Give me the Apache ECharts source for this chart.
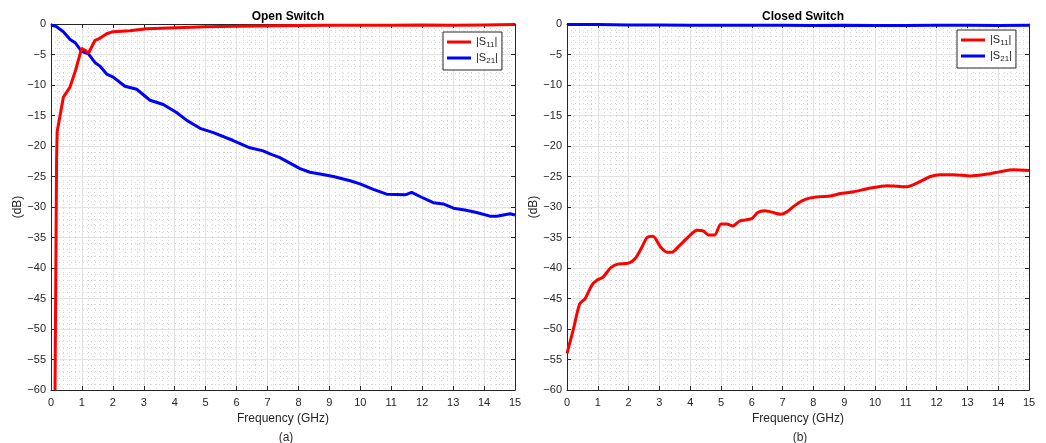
<!DOCTYPE html>
<html>
<head>
<meta charset="utf-8">
<title>Open / Closed Switch</title>
<script src="https://cdn.jsdelivr.net/npm/echarts@6/dist/echarts.min.js"></script>
<style>
  html, body { margin: 0; padding: 0; background: #fff; }
  #chart { width: 1046px; height: 443px; }
</style>
</head>
<body>
<div id="chart"></div>
<script>
// 开关断开 |S11|
var openS11Freq = [0.13, 0.18, 0.2, 0.4, 0.61, 0.8, 0.99, 1.1, 1.21, 1.42, 1.58, 1.8, 2.01, 2.55, 3.09, 4.06, 5.0, 6.0, 6.76, 8, 9, 10, 11, 12, 13, 14, 15]
var openS11Db = [-60, -22.3, -17.6, -12.0, -10.4, -7.5, -4.0, -4.3, -4.8, -2.7, -2.35, -1.6, -1.26, -1.1, -0.77, -0.6, -0.44, -0.38, -0.33, -0.25, -0.2, -0.2, -0.2, -0.15, -0.2, -0.15, -0.1]
// 开关断开 |S21|
var openS21Freq = [0, 0.18, 0.4, 0.61, 0.78, 0.99, 1.21, 1.42, 1.58, 1.8, 2.01, 2.39, 2.77, 3.2, 3.63, 4.06, 4.39, 4.82, 5.25, 5.89, 6.43, 6.86, 7.08, 7.4, 8.05, 8.37, 8.7, 9.13, 9.67, 9.99, 10.42, 10.85, 11.45, 11.66, 11.98, 12.36, 12.68, 13.01, 13.38, 13.76, 14.19, 14.41, 14.84, 15]
var openS21Db = [-0.16, -0.44, -1.26, -2.5, -3.06, -4.5, -4.9, -6.3, -6.9, -8.2, -8.7, -10.2, -10.7, -12.5, -13.2, -14.5, -15.8, -17.1, -17.8, -19.1, -20.3, -20.8, -21.3, -21.9, -23.7, -24.3, -24.6, -25.0, -25.7, -26.2, -27.1, -27.9, -28.0, -27.6, -28.4, -29.3, -29.5, -30.2, -30.5, -30.9, -31.5, -31.5, -31.1, -31.3]
// 开关闭合 |S11|
var closedS11Freq = [0, 0.21, 0.41, 0.59, 0.81, 0.97, 1.17, 1.41, 1.62, 2.0, 2.22, 2.43, 2.6, 2.79, 3.03, 3.25, 3.41, 3.62, 4.0, 4.22, 4.42, 4.6, 4.79, 5.0, 5.19, 5.39, 5.6, 6.0, 6.19, 6.41, 6.62, 6.93, 7.14, 7.36, 7.63, 7.9, 8.22, 8.55, 8.87, 9.31, 9.85, 10.39, 10.71, 11.04, 11.36, 11.8, 12.12, 12.55, 13.1, 13.64, 14.07, 14.5, 15]
var closedS11Db = [-54.0, -50.0, -45.9, -45.0, -42.8, -42.0, -41.5, -40.0, -39.4, -39.2, -38.4, -36.6, -35.0, -34.8, -36.5, -37.4, -37.4, -36.5, -34.6, -33.8, -33.9, -34.6, -34.6, -32.8, -32.8, -33.1, -32.3, -31.9, -30.9, -30.6, -30.8, -31.2, -30.8, -29.9, -29.0, -28.5, -28.3, -28.2, -27.8, -27.5, -26.9, -26.5, -26.6, -26.7, -26.1, -25.0, -24.7, -24.7, -24.9, -24.6, -24.2, -23.9, -24.0]
// 开关闭合 |S21|
var closedS21Freq = [0, 1, 2, 3, 4, 5, 6, 7, 8, 9, 10, 11, 12, 13, 14, 15]
var closedS21Db = [-0.1, -0.1, -0.15, -0.15, -0.2, -0.2, -0.2, -0.2, -0.25, -0.2, -0.25, -0.25, -0.2, -0.2, -0.25, -0.2]

var seriesNames = ['|S11|', '|S21|']
var panelTitles = ['Open Switch', 'Closed Switch']
var panelCaptions = ['(a)', '(b)']

var FONT = 'Liberation Sans'
var AXIS_COLOR = '#262626'

function pairs(xs, ys) {
  return xs.map(function (x, i) { return [x, ys[i]] })
}

// 负号用 U+2212
function minusFmt(v) {
  return v < 0 ? '\u2212' + Math.abs(v) : String(v)
}

// 主坐标轴（带标签）
function xMain(gridIndex) {
  return {
    gridIndex: gridIndex, type: 'value', min: 0, max: 15, interval: 1,
    name: 'Frequency (GHz)', nameLocation: 'middle', nameGap: 21,
    nameTextStyle: { color: AXIS_COLOR, fontFamily: FONT, fontSize: 12 },
    axisLine: { show: true, onZero: false, lineStyle: { color: AXIS_COLOR, width: 1 } },
    axisTick: { show: true, inside: true, length: 4, lineStyle: { color: AXIS_COLOR } },
    axisLabel: { color: AXIS_COLOR, fontFamily: FONT, fontSize: 11, margin: 7 },
    splitLine: { show: true, lineStyle: { color: '#e3e3e3', width: 1 } },
    minorTick: { show: false, splitNumber: 5 },
    minorSplitLine: { show: true, lineStyle: { color: '#d8d8d8', type: [1, 3], width: 1 } }
  }
}
function yMain(gridIndex, gap) {
  return {
    gridIndex: gridIndex, type: 'value', min: -60, max: 0, interval: 5,
    name: '(dB)', nameLocation: 'middle', nameGap: gap, nameRotate: 90,
    nameTextStyle: { color: AXIS_COLOR, fontFamily: FONT, fontSize: 12 },
    axisLine: { show: true, onZero: false, lineStyle: { color: AXIS_COLOR, width: 1 } },
    axisTick: { show: true, inside: true, length: 4, lineStyle: { color: AXIS_COLOR } },
    axisLabel: { color: AXIS_COLOR, fontFamily: FONT, fontSize: 11, margin: 5, formatter: minusFmt },
    splitLine: { show: true, lineStyle: { color: '#e3e3e3', width: 1 } },
    minorTick: { show: false, splitNumber: 5 },
    minorSplitLine: { show: true, lineStyle: { color: '#d8d8d8', type: [1, 3], width: 1 } }
  }
}
// 上/右边框轴（只画线和刻度）
function xBox(gridIndex) {
  return {
    gridIndex: gridIndex, type: 'value', min: 0, max: 15, interval: 1, position: 'top',
    axisLine: { show: true, onZero: false, lineStyle: { color: AXIS_COLOR, width: 1 } },
    axisTick: { show: true, inside: true, length: 4, lineStyle: { color: AXIS_COLOR } },
    axisLabel: { show: false }, splitLine: { show: false }
  }
}
function yBox(gridIndex) {
  return {
    gridIndex: gridIndex, type: 'value', min: -60, max: 0, interval: 5, position: 'right',
    axisLine: { show: true, onZero: false, lineStyle: { color: AXIS_COLOR, width: 1 } },
    axisTick: { show: true, inside: true, length: 4, lineStyle: { color: AXIS_COLOR } },
    axisLabel: { show: false }, splitLine: { show: false }
  }
}

// 图例（下标用富文本）
function legendAt(left, top) {
  return {
    data: seriesNames, orient: 'vertical', left: left, top: top,
    icon: 'rect', itemWidth: 24, itemHeight: 3, itemGap: 2,
    backgroundColor: '#fff', borderColor: AXIS_COLOR, borderWidth: 1, borderRadius: 0,
    padding: [3, 4, 5, 4],
    formatter: function (name) {
      return '{n||S}{s|' + name.slice(2, 4) + '}{n||}'
    },
    textStyle: {
      color: AXIS_COLOR, fontFamily: FONT, fontSize: 11, lineHeight: 14,
      rich: {
        n: { fontFamily: FONT, fontSize: 11, color: AXIS_COLOR, lineHeight: 14, verticalAlign: 'middle' },
        s: { fontFamily: FONT, fontSize: 8, color: AXIS_COLOR, lineHeight: 8, verticalAlign: 'bottom' }
      }
    }
  }
}

function lineSeries(name, xi, yi, data, color, smooth) {
  return {
    name: name, type: 'line', xAxisIndex: xi, yAxisIndex: yi,
    data: data, showSymbol: false, smooth: smooth || false,
    lineStyle: { color: color, width: 3 }, itemStyle: { color: color },
    clip: true, animation: false
  }
}

var chart = echarts.init(document.getElementById('chart'), null, { renderer: 'canvas' })

var option = {
  backgroundColor: '#fff',
  animation: false,
  title: [
    { text: panelTitles[0], left: 283, top: 6, textAlign: 'center',
      textStyle: { fontFamily: FONT, fontSize: 12, fontWeight: 'bold', color: '#000' } },
    { text: panelTitles[1], left: 798, top: 6, textAlign: 'center',
      textStyle: { fontFamily: FONT, fontSize: 12, fontWeight: 'bold', color: '#000' } },
    { text: panelCaptions[0], left: 281, top: 427, textAlign: 'center',
      textStyle: { fontFamily: FONT, fontSize: 12, fontWeight: 'normal', color: '#3a2a2a' } },
    { text: panelCaptions[1], left: 795, top: 427, textAlign: 'center',
      textStyle: { fontFamily: FONT, fontSize: 12, fontWeight: 'normal', color: '#3a2a2a' } }
  ],
  grid: [
    { left: 51, top: 24, width: 464, height: 366 },
    { left: 567, top: 24, width: 462, height: 366 }
  ],
  legend: [legendAt(443, 32), legendAt(957, 30)],
  xAxis: [xMain(0), xMain(1), xBox(0), xBox(1)],
  yAxis: [yMain(0, 24), yMain(1, 25), yBox(0), yBox(1)],
  series: [
    lineSeries(seriesNames[1], 0, 0, pairs(openS21Freq, openS21Db), '#0000ff'),
    lineSeries(seriesNames[0], 0, 0, pairs(openS11Freq, openS11Db), '#ff0000'),
    lineSeries(seriesNames[0], 1, 1, pairs(closedS11Freq, closedS11Db), '#ff0000', 0.25),
    lineSeries(seriesNames[1], 1, 1, pairs(closedS21Freq, closedS21Db), '#0000ff')
  ]
}

chart.setOption(option)
</script>
</body>
</html>
